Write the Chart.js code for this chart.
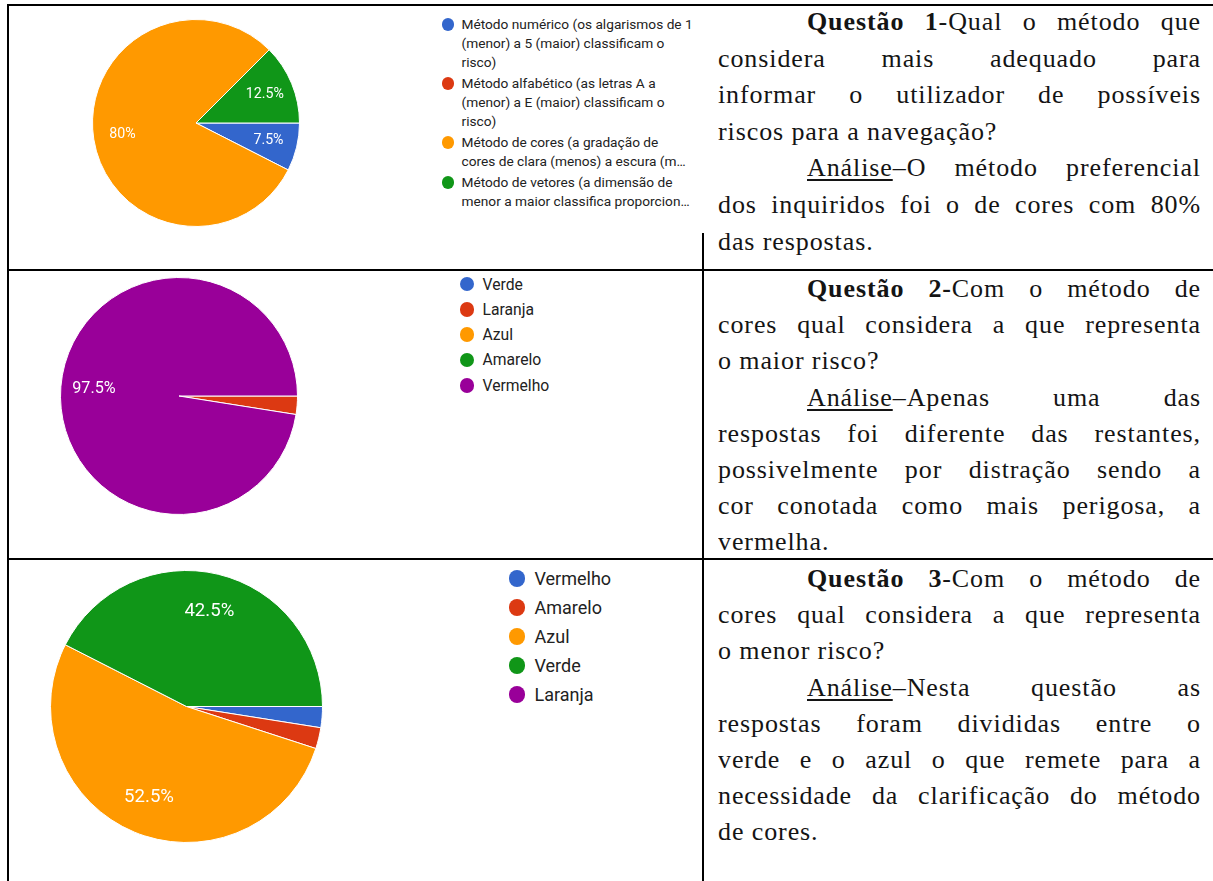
<!DOCTYPE html>
<html lang="pt">
<head>
<meta charset="utf-8">
<title>Questões 1–3</title>
<script src="https://cdn.jsdelivr.net/npm/chart.js@4.4.1/dist/chart.umd.min.js"></script>
<style>
  html, body { margin: 0; padding: 0; }
  body { width: 1213px; height: 881px; position: relative; overflow: hidden; background: #fff; }
  .rule { position: absolute; background: #000; }
  .pie { position: absolute; }
  .legend { position: absolute; font-family: Roboto, Arial, sans-serif; color: #222; }
  .legend .item { position: relative; }
  .legend .dot { position: absolute; border-radius: 50%; }
  .legend .line { white-space: nowrap; }
  .txt { position: absolute; left: 718px; width: 483px; font-family: "Liberation Serif", "Times New Roman", serif;
         font-size: 26px; letter-spacing: 0.9px; color: #141414; }
  .txt div { white-space: normal; overflow: hidden; }
  .j { text-align: justify; text-align-last: justify; }
  .ind { text-indent: 89px; }
  .txt u { text-decoration-thickness: 1.5px; text-underline-offset: 3px; }
</style>
</head>
<body>

<!-- table rules -->
<div class="rule" style="left:7px;top:4px;width:1206px;height:2px"></div>
<div class="rule" style="left:7px;top:269px;width:1206px;height:2px"></div>
<div class="rule" style="left:7px;top:558px;width:1206px;height:2px"></div>
<div class="rule" style="left:7px;top:4px;width:2px;height:877px"></div>
<div class="rule" style="left:702px;top:233px;width:2px;height:648px"></div>

<!-- charts -->
<div class="pie" style="left:92px;top:19px;width:208px;height:208px"><canvas id="c1" width="208" height="208"></canvas></div>
<div class="pie" style="left:60px;top:277px;width:238px;height:238px"><canvas id="c2" width="238" height="238"></canvas></div>
<div class="pie" style="left:50px;top:570px;width:273px;height:273px"><canvas id="c3" width="273" height="273"></canvas></div>

<div class="legend" id="l1" style="left:441px;top:15px;font-size:13.7px;line-height:19px"></div>
<div class="legend" id="l2" style="left:460px;top:271.5px;font-size:15.7px;line-height:25.3px"></div>
<div class="legend" id="l3" style="left:510px;top:563.8px;font-size:18px;line-height:29px"></div>

<!-- texts -->
<div class="txt" style="top:4px;line-height:36.6px">
  <div class="j ind"><b>Questão 1</b>-Qual o método que</div>
  <div class="j">considera mais adequado para</div>
  <div class="j">informar o utilizador de possíveis</div>
  <div>riscos para a navegação?</div>
  <div class="j ind"><u>Análise</u>–O método preferencial</div>
  <div class="j">dos inquiridos foi o de cores com 80%</div>
  <div>das respostas.</div>
</div>
<div class="txt" style="top:271px;line-height:36.2px">
  <div class="j ind"><b>Questão 2-</b>Com o método de</div>
  <div class="j">cores qual considera a que representa</div>
  <div>o maior risco?</div>
  <div class="j ind"><u>Análise</u>–Apenas uma das</div>
  <div class="j">respostas foi diferente das restantes,</div>
  <div class="j">possivelmente por distração sendo a</div>
  <div class="j">cor conotada como mais perigosa, a</div>
  <div>vermelha.</div>
</div>
<div class="txt" style="top:561px;line-height:36.2px">
  <div class="j ind"><b>Questão 3</b>-Com o método de</div>
  <div class="j">cores qual considera a que representa</div>
  <div>o menor risco?</div>
  <div class="j ind"><u>Análise</u>–Nesta questão as</div>
  <div class="j">respostas foram divididas entre o</div>
  <div class="j">verde e o azul o que remete para a</div>
  <div class="j">necessidade da clarificação do método</div>
  <div>de cores.</div>
</div>

<script>
// Palette shared by the three pies (legend order)
const sliceColors = ['#3366cc', '#dc3912', '#ff9900', '#109618', '#990099'];

// Questão 1 – método preferido (%)
const q1Labels = [
  ['Método numérico (os algarismos de 1', '(menor) a 5 (maior) classificam o', 'risco)'],
  ['Método alfabético (as letras A a', '(menor) a E (maior) classificam o', 'risco)'],
  ['Método de cores (a gradação de', 'cores de clara (menos) a escura (m…'],
  ['Método de vetores (a dimensão de', 'menor a maior classifica proporcion…']
];
const q1Values = [7.5, 0, 80, 12.5];

// Questão 2 – cor de maior risco (%)
const q2Labels = ['Verde', 'Laranja', 'Azul', 'Amarelo', 'Vermelho'];
const q2Values = [0, 2.5, 0, 0, 97.5];

// Questão 3 – cor de menor risco (%)
const q3Labels = ['Vermelho', 'Amarelo', 'Azul', 'Verde', 'Laranja'];
const q3Values = [2.5, 2.5, 52.5, 42.5, 0];

// Percentage text inside the larger slices
const sliceLabels = {
  id: 'sliceLabels',
  afterDatasetsDraw(chart, args, opts) {
    const ctx = chart.ctx;
    const values = chart.data.datasets[0].data;
    chart.getDatasetMeta(0).data.forEach((arc, i) => {
      const v = values[i];
      if (v < opts.min) return;
      const p = arc.getProps(['x', 'y', 'startAngle', 'endAngle', 'outerRadius'], true);
      const mid = (p.startAngle + p.endAngle) / 2;
      const r = p.outerRadius * opts.dist;
      ctx.save();
      ctx.fillStyle = '#ffffff';
      ctx.font = opts.size + 'px Roboto, Arial, sans-serif';
      ctx.textAlign = 'center';
      ctx.textBaseline = 'middle';
      ctx.fillText(v + '%', p.x + Math.cos(mid) * r, p.y + Math.sin(mid) * r);
      ctx.restore();
    });
  }
};

function makePie(id, labels, values, labelSize) {
  return new Chart(document.getElementById(id), {
    type: 'pie',
    data: {
      labels: labels.map(l => Array.isArray(l) ? l.join(' ') : l),
      datasets: [{
        data: values,
        backgroundColor: sliceColors.slice(0, values.length),
        borderColor: '#ffffff',
        borderWidth: 1
      }]
    },
    options: {
      responsive: false,
      animation: false,
      rotation: 90,
      layout: { padding: 0 },
      plugins: {
        legend: { display: false },
        tooltip: { enabled: false },
        sliceLabels: { min: 5, dist: 0.72, size: labelSize }
      }
    },
    plugins: [sliceLabels]
  });
}

function makeLegend(id, labels, dotSize, gap) {
  const box = document.getElementById(id);
  labels.forEach((l, i) => {
    const lines = Array.isArray(l) ? l : [l];
    const item = document.createElement('div');
    item.className = 'item';
    item.style.marginBottom = gap + 'px';
    const dot = document.createElement('div');
    dot.className = 'dot';
    dot.style.width = dot.style.height = dotSize + 'px';
    dot.style.background = sliceColors[i];
    dot.style.left = (-dotSize / 2 + 7) + 'px';
    dot.style.top = 'calc(' + box.style.lineHeight + ' / 2 - ' + (dotSize / 2) + 'px)';
    item.appendChild(dot);
    lines.forEach(t => {
      const d = document.createElement('div');
      d.className = 'line';
      d.style.paddingLeft = (dotSize + 8) + 'px';
      d.textContent = t;
      item.appendChild(d);
    });
    box.appendChild(item);
  });
}

makePie('c1', q1Labels, q1Values, 14.2);
makePie('c2', q2Labels, q2Values, 16.2);
makePie('c3', q3Labels, q3Values, 18.6);

makeLegend('l1', q1Labels, 12.5, 2);
makeLegend('l2', q2Labels, 14.5, 0);
makeLegend('l3', q3Labels, 16.5, 0);
</script>
</body>
</html>
